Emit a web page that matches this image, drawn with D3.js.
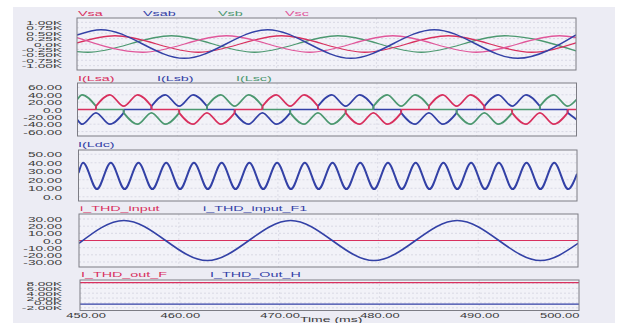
<!DOCTYPE html>
<html><head><meta charset="utf-8">
<script src="https://cdn.jsdelivr.net/npm/d3@7"></script>
<style>html,body{margin:0;padding:0;background:#fff;} svg{display:block}</style>
</head><body>
<svg id="c" width="621" height="323"></svg>
<script>
// ---------------- DATA ----------------
const timeTicks = [450, 460, 470, 480, 490, 500];
const timeTickLabels = ["450.00", "460.00", "470.00", "480.00", "490.00", "500.00"];

// Panel 1: source voltages (kV)
const p1Ticks = [1, 0.75, 0.5, 0.25, 0, -0.25, -0.5, -0.75, -1];
const p1TickLabels = ["1.00K", "0.75K", "0.50K", "0.25K", "0.0K", "-0.25K", "-0.50K", "-0.75K", "-1.00K"];
const vsaT  = [450, 453.8, 462.15, 470.5, 478.85, 487.2, 495.55, 500];
const vsaV  = [0.05, 0.38, -0.38, 0.38, -0.38, 0.38, -0.38, 0.05];
const vsabT = [450, 452.4, 460.75, 469.1, 477.45, 485.8, 494.15, 500];
const vsabV = [0.41, 0.66, -0.66, 0.66, -0.66, 0.66, -0.66, 0.42];
const vsbT  = [450, 451.1, 459.45, 467.8, 476.15, 484.5, 492.85, 500];
const vsbV  = [-0.35, -0.38, 0.38, -0.38, 0.38, -0.38, 0.38, -0.32];
const vscT  = [450, 456.6, 464.95, 473.3, 481.65, 490.0, 498.35, 500];
const vscV  = [0.30, -0.38, 0.38, -0.38, 0.38, -0.38, 0.38, 0.30];

// Panel 2: line currents -> conduction intervals [start, end, sign]
const p2Ticks = [60, 40, 20, 0, -20, -40, -60];
const p2TickLabels = ["60.00", "40.00", "20.00", "0.0", "-20.00", "-40.00", "-60.00"];
const lsaCond = [[451.85,457.41,1],[460.19,465.75,-1],[468.53,474.09,1],[476.87,482.43,-1],[485.21,490.77,1],[493.55,499.11,-1]];
const lsbCond = [[450,454.63,-1],[457.41,462.97,1],[465.75,471.31,-1],[474.09,479.65,1],[482.43,487.99,-1],[490.77,496.33,1],[499.11,500,-1]];
const lscCond = [[450,451.85,1],[454.63,460.19,-1],[462.97,468.53,1],[471.31,476.87,-1],[479.65,485.21,1],[487.99,493.55,-1],[496.33,500,1]];

// Panel 3: DC current (peaks and troughs)
const p3Ticks = [50, 40, 30, 20, 10, 0];
const p3TickLabels = ["50.00", "40.00", "30.00", "20.00", "10.00", "0.0"];
const ldcT = [450, 450.46, 451.85, 453.24, 454.63, 456.02, 457.41, 458.80, 460.19, 461.58, 462.97,
  464.36, 465.75, 467.14, 468.53, 469.92, 471.31, 472.70, 474.09, 475.48, 476.87, 478.26, 479.65,
  481.04, 482.43, 483.82, 485.21, 486.60, 487.99, 489.38, 490.77, 492.16, 493.55, 494.94, 496.33,
  497.72, 499.11, 500];
const ldcV = [28, 40, 9, 40, 9, 40, 9, 40, 9, 40, 9,
  40, 9, 40, 9, 40, 9, 40, 9, 40, 9, 40, 9,
  40, 9, 40, 9, 40, 9, 40, 9, 40, 9, 40, 9,
  40, 9, 27];

// Panel 4: input current and fundamental
const p4Ticks = [30, 20, 10, 0, -10, -20, -30];
const p4TickLabels = ["30.00", "20.00", "10.00", "0.0", "-10.00", "-20.00", "-30.00"];
const thdInT = [450, 500];
const thdInV = [0, 0];
const f1T = [450, 454.5, 462.85, 471.2, 479.55, 487.9, 496.25, 500];
const f1V = [-4, 28, -28, 28, -28, 28, -28, -4];

// Panel 5: THD outputs (K)
const p5Ticks = [8, 6, 4, 2, 0, -2];
const p5TickLabels = ["8.00K", "6.00K", "4.00K", "2.00K", "0.0K", "-2.00K"];
const thdOutFT = [450, 500];
const thdOutFV = [8.3, 8.3];
const thdOutHT = [450, 500];
const thdOutHV = [-0.5, -0.5];

// ---------------- STYLE ----------------
const C = { red: "#d8305e", pink: "#e0579a", blue: "#3341a6", green: "#4c9870", text: "#3a3a3a" };
const FONT = "'Liberation Sans', Arial, sans-serif";

const svg = d3.select("#c");
svg.append("rect").attr("x", 13).attr("y", 7).attr("width", 602).attr("height", 316).attr("fill", "#ececf4");

const panels = [
  { top: 18, bottom: 70, left: 77, right: 576, dom: [-1.2, 1.2], ticks: p1Ticks, labels: p1TickLabels, fs: 5.6 },
  { top: 83, bottom: 136, left: 77.5, right: 576.5, dom: [-72, 72], ticks: p2Ticks, labels: p2TickLabels, fs: 7 },
  { top: 150, bottom: 201, left: 78.5, right: 577, dom: [-5, 55], ticks: p3Ticks, labels: p3TickLabels, fs: 7 },
  { top: 214, bottom: 267, left: 79, right: 578, dom: [-37, 37], ticks: p4Ticks, labels: p4TickLabels, fs: 7 },
  { top: 280, bottom: 310.5, left: 80, right: 579, dom: [-3.1, 9.4], ticks: p5Ticks, labels: p5TickLabels, fs: 5.4 }
];

function legend(x, y, s, fill) {
  svg.append("text").attr("transform", `translate(${x},${y}) scale(2.05,1)`)
    .attr("font-size", 7).attr("font-family", FONT).attr("fill", fill).text(s);
}

panels.forEach((p, i) => {
  p.x = d3.scaleLinear().domain([450, 500]).range([p.left, p.right]);
  p.y = d3.scaleLinear().domain(p.dom).range([p.bottom, p.top]);
  p.g = svg.append("g");
  p.g.append("rect").attr("x", p.left).attr("y", p.top).attr("width", p.right - p.left)
    .attr("height", p.bottom - p.top).attr("fill", "#f2f2f8");
  // grid
  p.ticks.forEach(v => {
    const yy = p.y(v);
    if (yy > p.top + 1 && yy < p.bottom - 1)
      p.g.append("line").attr("x1", p.left).attr("x2", p.right).attr("y1", yy).attr("y2", yy)
        .attr("stroke", "#cfcfdc").attr("stroke-width", 0.7).attr("stroke-dasharray", "2,2");
  });
  timeTicks.slice(1, -1).forEach(t => {
    p.g.append("line").attr("x1", p.x(t)).attr("x2", p.x(t)).attr("y1", p.top).attr("y2", p.bottom)
      .attr("stroke", "#d4d4e0").attr("stroke-width", 0.7).attr("stroke-dasharray", "2,2");
  });
  // y axis labels
  const sx = 1.95 * 7 / p.fs;
  const ax = d3.axisLeft(p.y).tickValues(p.ticks).tickFormat((d, k) => p.labels[k]).tickSize(0).tickPadding(0);
  const ag = svg.append("g").attr("transform", `translate(62,0)`).call(ax);
  ag.select(".domain").remove();
  ag.selectAll("text").attr("x", 0).attr("dy", "0.36em").attr("transform", `scale(${sx},1)`)
    .attr("font-size", p.fs).attr("font-family", FONT).attr("fill", C.text);
  // clip
  svg.append("clipPath").attr("id", "clip" + i).append("rect")
    .attr("x", p.left).attr("y", p.top).attr("width", p.right - p.left).attr("height", p.bottom - p.top);
  p.plot = svg.append("g").attr("clip-path", `url(#clip${i})`);
});

function drawSeries(p, T, V, color, w, curve) {
  const pts = T.map((t, k) => [t, V[k]]);
  const line = d3.line().x(d => p.x(d[0])).y(d => p.y(d[1])).curve(curve || d3.curveMonotoneX);
  p.plot.append("path").attr("d", line(pts)).attr("fill", "none").attr("stroke", color)
    .attr("stroke-width", w).attr("stroke-linejoin", "round");
}

// Panel 1
const P1 = panels[0];
drawSeries(P1, vsbT, vsbV, C.green, 1.3);
drawSeries(P1, vsaT, vsaV, C.red, 1.3);
drawSeries(P1, vscT, vscV, C.pink, 1.3);
drawSeries(P1, vsabT, vsabV, C.blue, 1.5);
legend(78, 15.5, "Vsa", C.red);
legend(143, 15.5, "Vsab", C.blue);
legend(218, 15.5, "Vsb", C.green);
legend(285, 15.5, "Vsc", C.pink);

// Panel 2
const P2 = panels[1];
function drawPhase(cond, color) {
  const lin = d3.line().x(d => P2.x(d[0])).y(d => P2.y(d[1]));
  const mono = d3.line().x(d => P2.x(d[0])).y(d => P2.y(d[1])).curve(d3.curveMonotoneX);
  let t = 450;
  cond.forEach(c => {
    if (c[0] > t + 1e-6) P2.plot.append("path").attr("d", lin([[t, 0], [c[0], 0]]))
      .attr("stroke", color).attr("stroke-width", 1.5).attr("fill", "none");
    t = c[1];
  });
  if (t < 500 - 1e-6) P2.plot.append("path").attr("d", lin([[t, 0], [500, 0]]))
    .attr("stroke", color).attr("stroke-width", 1.5).attr("fill", "none");
  cond.forEach(c => {
    const pts = [];
    ldcT.forEach((tt, k) => { if (tt >= c[0] - 1e-6 && tt <= c[1] + 1e-6) pts.push([tt, c[2] * ldcV[k]]); });
    P2.plot.append("path").attr("d", mono(pts)).attr("stroke", color).attr("stroke-width", 1.8).attr("fill", "none");
    if (c[0] > 450) P2.plot.append("path").attr("d", lin([[c[0], 0], pts[0]])).attr("stroke", color).attr("stroke-width", 1.8);
    if (c[1] < 500) P2.plot.append("path").attr("d", lin([pts[pts.length - 1], [c[1], 0]])).attr("stroke", color).attr("stroke-width", 1.8);
  });
}
drawPhase(lsbCond, C.blue);
drawPhase(lscCond, C.green);
drawPhase(lsaCond, C.red);
legend(78, 81, "I(Lsa)", C.red);
legend(157, 81, "I(Lsb)", C.blue);
legend(236, 81, "I(Lsc)", C.green);

// Panel 3
const P3 = panels[2];
drawSeries(P3, ldcT, ldcV, C.blue, 2);
legend(78, 147, "I(Ldc)", C.blue);

// Panel 4
const P4 = panels[3];
drawSeries(P4, thdInT, thdInV, C.red, 1.2, d3.curveLinear);
drawSeries(P4, f1T, f1V, C.blue, 1.6);
legend(80, 211, "i_THD_input", C.red);
legend(203, 211, "i_THD_input_F1", C.blue);

// Panel 5
const P5 = panels[4];
drawSeries(P5, thdOutFT, thdOutFV, C.red, 1.3, d3.curveLinear);
drawSeries(P5, thdOutHT, thdOutHV, C.blue, 1.3, d3.curveLinear);
legend(81, 277, "I_THD_out_F", C.red);
legend(210, 277, "I_THD_Out_H", C.blue);

// frames on top
panels.forEach(p => {
  svg.append("rect").attr("x", p.left).attr("y", p.top).attr("width", p.right - p.left)
    .attr("height", p.bottom - p.top).attr("fill", "none").attr("stroke", "#7c7c84").attr("stroke-width", 1);
});

// x axis
const xa = d3.axisBottom(P5.x).tickValues(timeTicks).tickFormat((d, k) => timeTickLabels[k]).tickSize(0).tickPadding(0);
const xg = svg.append("g").attr("transform", "translate(0,318)").call(xa);
xg.select(".domain").remove();
xg.selectAll("text").attr("y", 0).attr("dy", 0).attr("transform", "scale(1.85,1)")
  .attr("font-size", 7).attr("font-family", FONT).attr("fill", C.text)
  .attr("x", (d, k) => k === 0 ? 3 : 0)
  .attr("text-anchor", (d, k) => k === timeTicks.length - 1 ? "end" : "middle");
svg.append("text").attr("transform", "translate(300,321.5) scale(2,1)").attr("font-size", 7)
  .attr("font-family", FONT).attr("fill", C.text).text("Time (ms)");
</script>
</body></html>
